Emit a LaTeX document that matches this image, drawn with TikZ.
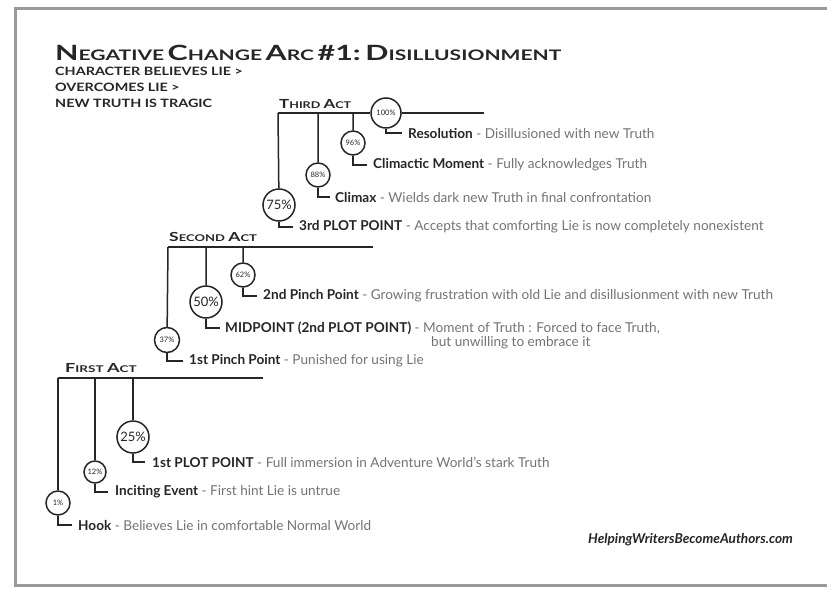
\documentclass[tikz,border=0pt]{standalone}
\usepackage{graphicx}
\usepackage{fontspec}
\setmainfont{Lato}
\usetikzlibrary{positioning}

\definecolor{inkdark}{HTML}{262626}
\definecolor{inkgrey}{HTML}{747474}
\definecolor{framegrey}{HTML}{9A9A9A}

% fake small caps: big first letter, smaller rest
\newcommand{\Sc}[2]{{\fontsize{12.5}{14}\selectfont #1}{\fontsize{9.3}{11}\selectfont #2}}
\newcommand{\Tc}[2]{{\fontsize{21}{24}\selectfont #1}{\fontsize{14.5}{18}\selectfont #2}}
\newcommand{\beatname}[1]{{\bfseries\color{inkdark}#1}}
\newcommand{\widecaps}[2]{\scalebox{#1}[1]{#2}}

\begin{document}
\begin{tikzpicture}[x=1pt,y=-1pt,
    every node/.style={inner sep=0pt},
    pct/.style={circle,draw=inkdark,line width=1.5pt,fill=white,text=inkdark},
    bigpct/.style={pct,minimum size=32pt,font=\fontsize{13}{13}\selectfont},
    smallpct/.style={pct,minimum size=24pt,font=\fontsize{7.5}{8}\selectfont},
    actline/.style={draw=inkdark,line width=2.4pt},
    stem/.style={draw=inkdark,line width=1.5pt},
    actlabel/.style={anchor=base west,font=\bfseries,text=inkdark},
    subline/.style={anchor=base west,text=inkdark,font=\bfseries\fontsize{11.5}{14}\selectfont},
    beat/.style={anchor=west,font=\fontsize{13.6}{16}\selectfont,text=inkgrey}]

  \useasboundingbox[fill=white] (0,0) rectangle (827,589);
  \draw[framegrey,line width=3pt] (827,8) -- (15,8) -- (15,585) -- (827,585);

  % heading
  \node[anchor=base west,font=\bfseries,text=inkdark] (title) at (55,60)
    {\widecaps{1.45}{\Tc{N}{EGATIVE} \Tc{C}{HANGE} \Tc{A}{RC} {\fontsize{21}{24}\selectfont\#1:} \Tc{D}{ISILLUSIONMENT}}};
  \node[subline] (sub1) at (55,75) {\widecaps{1.25}{CHARACTER BELIEVES LIE >}};
  \node[subline] (sub2) at (55,91) {\widecaps{1.25}{OVERCOMES LIE >}};
  \node[subline] (sub3) at (55,107) {\widecaps{1.25}{NEW TRUTH IS TRAGIC}};

  % third act
  \coordinate (a3l) at (278,113);
  \coordinate (a3r) at (484,113);
  \node[actlabel] (act3) at (279,108) {\widecaps{1.35}{\Sc{T}{HIRD} \Sc{A}{CT}}};
  \node[smallpct,minimum size=30pt] (m100) at (386,113) {100\%};
  \node[smallpct] (m96) at (353,143) {96\%};
  \node[smallpct] (m88) at (318,175) {88\%};
  \node[bigpct] (m75) at (279,205) {75\%};
  \node[beat] (t100) at (408,133) {\beatname{Resolution} - Disillusioned with new Truth};
  \node[beat] (t96) at (373,165) {\beatname{Climactic Moment} - Fully acknowledges Truth};
  \node[beat] (t88) at (335,197) {\beatname{Climax} - Wields dark new Truth in final confrontation};
  \node[beat] (t75) at (299,227) {\beatname{3rd PLOT POINT} - Accepts that comforting Lie is now completely nonexistent};
  \draw[actline] (a3l) -- (m100) (m100) -- (a3r);
  \draw[stem] (a3l) -- (m75) (m88 |- a3l) -- (m88) (m96 |- a3l) -- (m96);
  \draw[stem] (m100) |- ([xshift=-6pt]t100.west);
  \draw[stem] (m96) |- ([xshift=-6pt]t96.west);
  \draw[stem] (m88) |- ([xshift=-5pt]t88.west);
  \draw[stem] (m75) |- ([xshift=-6pt]t75.west);

  % second act
  \coordinate (a2l) at (168,247);
  \coordinate (a2r) at (373,247);
  \node[actlabel] (act2) at (169,241) {\widecaps{1.4}{\Sc{S}{ECOND} \Sc{A}{CT}}};
  \node[smallpct] (m62) at (243,275) {62\%};
  \node[bigpct] (m50) at (206,302) {50\%};
  \node[smallpct,minimum size=25pt] (m37) at (167,340) {37\%};
  \node[beat] (t62) at (263,296) {\beatname{2nd Pinch Point} - Growing frustration with old Lie and disillusionment with new Truth};
  \node[beat] (t50) at (225,328) {\beatname{MIDPOINT (2nd PLOT POINT)} - Moment of Truth : Forced to face Truth,};
  \node[beat] (t50b) at (431,343) {but unwilling to embrace it};
  \node[beat] (t37) at (189,361) {\beatname{1st Pinch Point} - Punished for using Lie};
  \draw[actline] (a2l) -- (a2r);
  \draw[stem] (a2l) -- (m37) (m50 |- a2l) -- (m50) (m62 |- a2l) -- (m62);
  \draw[stem] (m62) |- ([xshift=-6pt]t62.west);
  \draw[stem] (m50) |- ([xshift=-5pt]t50.west);
  \draw[stem] (m37) |- ([xshift=-6pt]t37.west);

  % first act
  \coordinate (a1l) at (58,378);
  \coordinate (a1r) at (263,378);
  \node[actlabel] (act1) at (65,372) {\widecaps{1.45}{\Sc{F}{IRST} \Sc{A}{CT}}};
  \node[bigpct] (m25) at (133,437) {25\%};
  \node[smallpct,minimum size=22pt] (m12) at (95,472) {12\%};
  \node[smallpct] (m1) at (58,503) {1\%};
  \node[beat] (t25) at (152,462) {\beatname{1st PLOT POINT} - Full immersion in Adventure World's stark Truth};
  \node[beat] (t12) at (115,492) {\beatname{Inciting Event} - First hint Lie is untrue};
  \node[beat] (t1) at (78,525) {\beatname{Hook} - Believes Lie in comfortable Normal World};
  \draw[actline] (a1l) -- (a1r);
  \draw[stem] (a1l) -- (m1) (m12 |- a1l) -- (m12) (m25 |- a1l) -- (m25);
  \draw[stem] (m25) |- ([xshift=-7pt]t25.west);
  \draw[stem] (m12) |- ([xshift=-7pt]t12.west);
  \draw[stem] (m1) |- ([xshift=-6pt]t1.west);

  \node[anchor=west,text=inkdark,font=\bfseries\itshape\fontsize{13.6}{16}\selectfont] (site) at (588,540)
    {HelpingWritersBecomeAuthors.com};
\end{tikzpicture}
\end{document}
